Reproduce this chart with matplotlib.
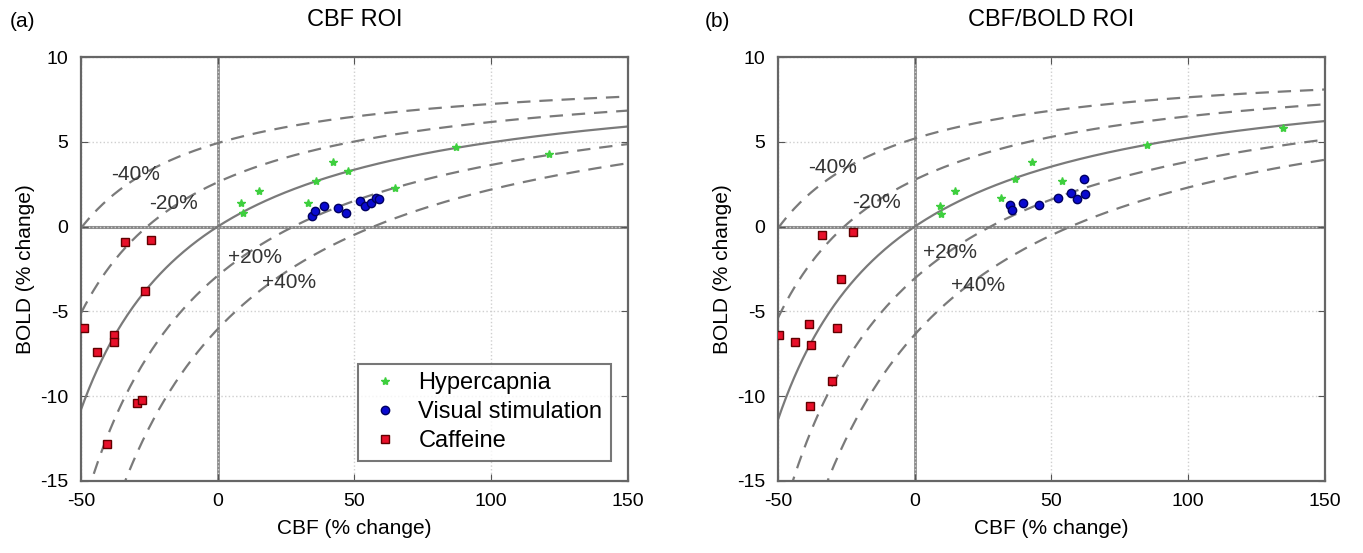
import numpy as np
import matplotlib
matplotlib.use("Agg")
import matplotlib.pyplot as plt

plt.rcParams["font.family"] = ["Liberation Sans", "DejaVu Sans"]
plt.rcParams["axes.unicode_minus"] = False

# ── Data ──────────────────────────────────────────────────────────────────────

PANEL_TITLES = ["CBF ROI", "CBF/BOLD ROI"]
PANEL_TAGS   = ["(a)", "(b)"]

# Davis-model scaling M per panel (alpha/beta shared)
M_VALUES = [9.2, 9.7]
ALPHA, BETA = 0.38, 1.5
CMRO2_OFFSETS = [-40, -20, 0, 20, 40]          # % change in CMRO2 for each curve
OFFSET_LABELS = ["-40%", "-20%", None, "+20%", "+40%"]

# (a) CBF ROI
hyper_cbf_a  = [8.5, 9.2, 15, 33, 36, 42, 47.5, 65, 87, 121]
hyper_bold_a = [1.4, 0.8, 2.1, 1.4, 2.7, 3.8, 3.3, 2.3, 4.7, 4.3]
vis_cbf_a    = [34.5, 35.5, 39, 44, 47, 52, 54, 56, 58, 59]
vis_bold_a   = [0.6, 0.9, 1.2, 1.1, 0.8, 1.5, 1.2, 1.4, 1.7, 1.6]
caf_cbf_a    = [-34, -24.5, -26.5, -49, -38, -38, -44, -29.5, -27.5, -40.5]
caf_bold_a   = [-0.9, -0.8, -3.8, -6.0, -6.4, -6.8, -7.4, -10.4, -10.2, -12.8]

# (b) CBF/BOLD ROI
hyper_cbf_b  = [9.7, 9.1, 14.6, 31.7, 36.6, 42.7, 53.7, 84.8, 134.8]
hyper_bold_b = [0.75, 1.2, 2.1, 1.7, 2.8, 3.8, 2.7, 4.8, 5.8]
vis_cbf_b    = [34.8, 35.4, 39.6, 45.5, 52.4, 57.3, 59.4, 62.2, 61.8]
vis_bold_b   = [1.3, 1.0, 1.4, 1.3, 1.7, 2.0, 1.6, 1.9, 2.8]
caf_cbf_b    = [-33.8, -22.6, -27.1, -38.8, -28.6, -49.8, -43.9, -38, -30.3, -38.4]
caf_bold_b   = [-0.5, -0.3, -3.1, -5.75, -5.95, -6.4, -6.8, -7.0, -9.1, -10.6]

# label anchor positions for the curve annotations, per panel
LABEL_POS = [
    {"-40%": (-30, 3.1), "-20%": (-16, 1.35), "+20%": (13.5, -1.85), "+40%": (26, -3.3)},
    {"-40%": (-30, 3.5), "-20%": (-14, 1.4), "+20%": (13, -1.5), "+40%": (23, -3.5)},
]

PANELS = [
    (hyper_cbf_a, hyper_bold_a, vis_cbf_a, vis_bold_a, caf_cbf_a, caf_bold_a),
    (hyper_cbf_b, hyper_bold_b, vis_cbf_b, vis_bold_b, caf_cbf_b, caf_bold_b),
]

CURVE_COL = "#7a7a7a"


def davis_bold(cbf_pct, cmro2_pct, M):
    f = 1 + np.asarray(cbf_pct) / 100.0
    r = 1 + cmro2_pct / 100.0
    return M * (1 - f ** (ALPHA - BETA) * r ** BETA)


fig = plt.figure(figsize=(13.63, 5.53), dpi=100)
ax_pos = [[0.0594, 0.1302, 0.4013, 0.7667],
          [0.5708, 0.1302, 0.4013, 0.7667]]
tag_x = [0.007, 0.517]

cbf_grid = np.linspace(-50, 150, 400)

for k, pos in enumerate(ax_pos):
    ax = fig.add_axes(pos)
    hx, hy, vx, vy, cx, cy = PANELS[k]
    M = M_VALUES[k]

    ax.grid(True, color="#cfcfcf", linestyle=":", linewidth=1.0)
    ax.axhline(0, color="#8a8a8a", linewidth=2.2, zorder=1)
    ax.axvline(0, color="#8a8a8a", linewidth=2.0, zorder=1)

    for off, lab in zip(CMRO2_OFFSETS, OFFSET_LABELS):
        ls = "-" if off == 0 else (0, (6, 4))
        ax.plot(cbf_grid, davis_bold(cbf_grid, off, M), color=CURVE_COL,
                linestyle=ls, linewidth=1.6, zorder=2)
        if lab:
            lx, ly = LABEL_POS[k][lab]
            ax.text(lx, ly, lab, fontsize=15, color="#333333",
                    ha="center", va="center", zorder=3)

    ax.plot(hx, hy, linestyle="none", marker="*", color="#3ecf3e",
            markersize=6, label="Hypercapnia", zorder=4)
    ax.plot(vx, vy, linestyle="none", marker="o", color="#0a0ad0",
            markeredgecolor="#000060", markersize=6,
            label="Visual stimulation", zorder=4)
    ax.plot(cx, cy, linestyle="none", marker="s", color="#e8102a",
            markeredgecolor="#600000", markersize=6, label="Caffeine", zorder=4)

    ax.set_xlim(-50, 150)
    ax.set_ylim(-15, 10)
    ax.set_xticks([-50, 0, 50, 100, 150])
    ax.set_yticks([-15, -10, -5, 0, 5, 10])
    ax.tick_params(direction="in", labelsize=14, length=5, color="#555555",
                   top=True, right=True, pad=9)
    for sp in ax.spines.values():
        sp.set_color("#666666")
        sp.set_linewidth(1.6)

    ax.set_xlabel("CBF (% change)", fontsize=15, labelpad=6)
    ax.set_ylabel("BOLD (% change)", fontsize=15, labelpad=4)
    ax.set_title(PANEL_TITLES[k], fontsize=17, pad=22)
    fig.text(tag_x[k], 0.962, PANEL_TAGS[k], fontsize=15,
             ha="left", va="center")

    if k == 0:
        leg = ax.legend(loc="lower right", fontsize=17, frameon=True,
                        fancybox=False, edgecolor="#555555",
                        handletextpad=0.6, borderpad=0.35, labelspacing=0.3,
                        handlelength=1.6,
                        bbox_to_anchor=(0.99, 0.02), markerscale=1.0)
        leg.get_frame().set_linewidth(1.5)

fig.savefig("out.png", dpi=100)
